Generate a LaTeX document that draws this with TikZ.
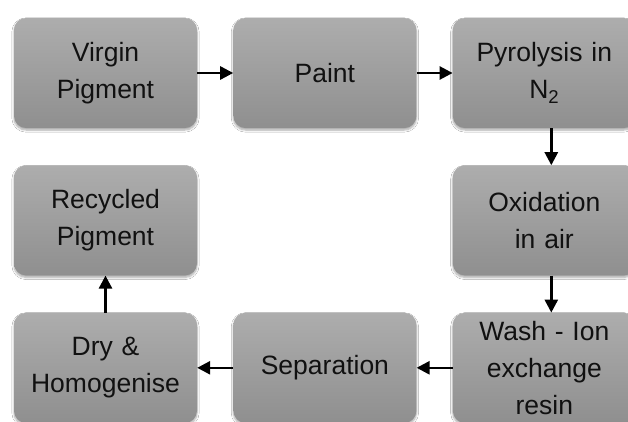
\documentclass[tikz,border=0pt]{standalone}
\usepackage{fontspec}
\setmainfont{Liberation Sans}
\usepackage{tikz}
\usetikzlibrary{shapes, arrows.meta, positioning, shadows.blur}
\usepackage{xcolor}
\definecolor{cBlockTop}{HTML}{ADADAD}
\definecolor{cBlockBottom}{HTML}{8F8F8F}
\definecolor{cBlockText}{HTML}{111111}
\definecolor{cLine}{HTML}{000000}
\tikzset{
  block/.style = {
    rectangle,
    rounded corners=12pt,
    top color=cBlockTop,
    bottom color=cBlockBottom,
    text=cBlockText,
    text width=176pt,
    align=center,
    minimum width=183pt,
    minimum height=110pt,
    inner sep=3pt,
    font=\fontsize{26.5}{37}\selectfont,
    blur shadow={shadow xshift=0pt, shadow yshift=-2pt, shadow blur steps=6, shadow opacity=35}
  },
  line/.style = {
    draw,
    line width=2.6pt,
    color=cLine,
    -{Triangle[length=13pt, width=13pt]},
  },
}
\begin{document}
\begin{tikzpicture}[node distance=37pt and 36pt]
    \useasboundingbox (0,0) rectangle (628pt,-422pt);
    \fill[white] (0,0) rectangle (628pt,-422pt);
    \node [block] (virgin) at (105.5pt,-73pt) {Virgin\\Pigment};
    \node [block, right=of virgin] (paint) {Paint};
    \node [block, right=of paint] (pyro) {Pyrolysis in\\N\textsubscript{2}};
    \node [block, below=of pyro] (oxid) {Oxidation\\in air};
    \node [block, below=of oxid] (wash) {Wash - Ion\\exchange\\resin};
    \node [block, left=of wash] (sep) {Separation};
    \node [block, left=of sep] (dry) {Dry \&\\Homogenise};
    \node [block, above=of dry] (recyc) {Recycled\\Pigment};
    \path [line] (virgin) -- (paint);
    \path [line] (paint) -- (pyro);
    \path [line] ([xshift=7pt]pyro.south) -- ([xshift=7pt]oxid.north);
    \path [line] ([xshift=7pt]oxid.south) -- ([xshift=7pt]wash.north);
    \path [line] (wash) -- (sep);
    \path [line] (sep) -- (dry);
    \path [line] (dry) -- (recyc);
  \end{tikzpicture}
\end{document}
